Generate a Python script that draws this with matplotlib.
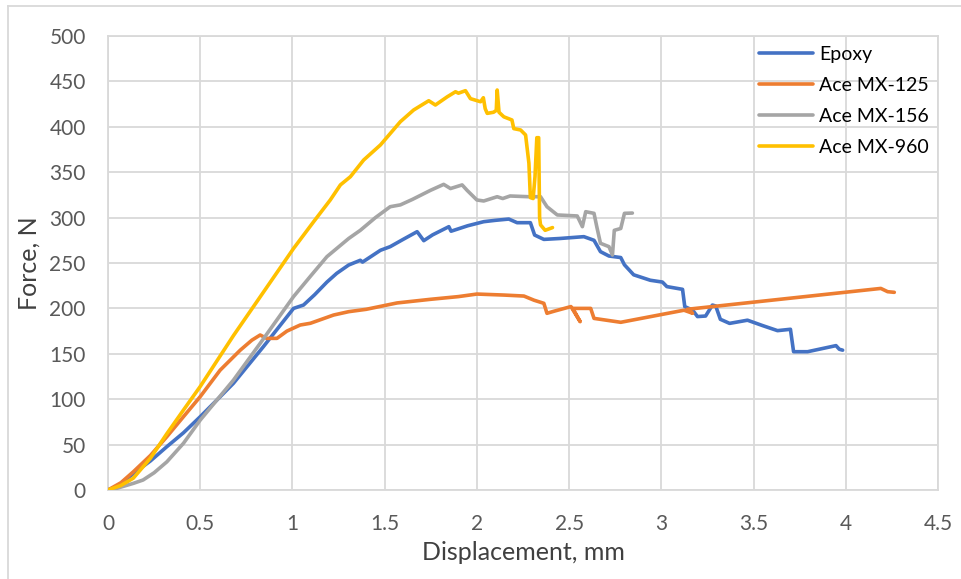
import matplotlib
matplotlib.use("Agg")
import matplotlib.pyplot as plt
from matplotlib.lines import Line2D

plt.rcParams["font.family"] = ["Lato", "DejaVu Sans"]

# 하중-변위 곡선 (Displacement mm, Force N)
epoxy_x = [0, 0.05, 0.137, 0.23, 0.319, 0.409, 0.5, 0.59, 0.68, 0.843, 1.006, 1.06, 1.12,
           1.187, 1.24, 1.305, 1.368, 1.38, 1.477, 1.53, 1.6, 1.676, 1.712, 1.76, 1.848,
           1.86, 1.95, 2.037, 2.1, 2.173, 2.218, 2.29, 2.313, 2.363, 2.45, 2.58, 2.635,
           2.67, 2.716, 2.78, 2.80, 2.85, 2.94, 3.006, 3.03, 3.115, 3.127, 3.17, 3.196,
           3.24, 3.277, 3.295, 3.32, 3.37, 3.467, 3.55, 3.63, 3.70, 3.717, 3.793, 3.947,
           3.965, 3.983]
epoxy_y = [0, 4, 18, 32, 47.7, 63, 80.7, 99, 117.5, 158, 200, 203.7, 215,
           229, 238.6, 247.8, 253, 251, 264, 268, 276, 284.5, 274.6, 281, 290,
           285, 291, 295.5, 297, 298.4, 294.4, 294.4, 280.8, 276, 277, 279, 275,
           262.5, 257.7, 256, 248, 237, 231, 229, 224, 221, 202, 198, 191,
           191.6, 203.7, 202.6, 188, 183.5, 187, 181, 175.5, 177, 152.3, 152.3, 159,
           155, 154]

mx125_x = [0, 0.07, 0.137, 0.23, 0.319, 0.409, 0.5, 0.608, 0.717, 0.78, 0.825, 0.86,
           0.916, 0.97, 1.042, 1.097, 1.223, 1.305, 1.4, 1.567, 1.748, 1.9, 2.0, 2.146,
           2.255, 2.31, 2.363, 2.38, 2.42, 2.51, 2.56, 2.52, 2.617, 2.635, 2.78, 3.123,
           3.17, 3.14, 4.19, 4.227, 4.263]
mx125_y = [0, 8, 20, 38, 58.7, 80.7, 102.8, 132, 154, 165, 170.7, 167,
           167, 175, 181.7, 183.6, 192.7, 196.4, 199, 206, 210, 213, 215.8, 214.7,
           213.6, 209, 205.6, 194.6, 197, 202, 185.4, 200, 200, 189, 184.7, 198,
           194.6, 199, 222, 218.4, 217.7]

mx156_x = [0, 0.05, 0.137, 0.19, 0.25, 0.319, 0.409, 0.5, 0.59, 0.68, 0.825, 1.006,
           1.1, 1.187, 1.305, 1.368, 1.45, 1.53, 1.585, 1.65, 1.748, 1.82, 1.857, 1.92,
           1.947, 2.0, 2.037, 2.11, 2.14, 2.18, 2.28, 2.345, 2.38, 2.436, 2.544, 2.572,
           2.59, 2.635, 2.65, 2.67, 2.716, 2.735, 2.745, 2.78, 2.8, 2.843]
mx156_y = [0, 2, 7.3, 11, 19, 31, 51.4, 77, 99, 121, 161.5, 213,
           236, 257, 277, 286, 300, 312, 314, 320, 330, 336.6, 332, 336,
           330, 319.4, 318.3, 323, 321, 323.8, 323, 323, 312, 302.9, 301.8, 290,
           306.5, 304.7, 290, 271.7, 268, 258.8, 286, 288, 304.7, 305]

mx960_x = [0, 0.07, 0.137, 0.23, 0.319, 0.409, 0.5, 0.68, 0.86, 1.006, 1.115, 1.205,
           1.26, 1.314, 1.386, 1.477, 1.585, 1.657, 1.739, 1.775, 1.839, 1.884, 1.9, 1.938,
           1.965, 2.02, 2.035, 2.045, 2.056, 2.09, 2.105, 2.11, 2.12, 2.146, 2.19, 2.2,
           2.237, 2.264, 2.282, 2.29, 2.305, 2.315, 2.325, 2.335, 2.34, 2.345, 2.37, 2.41]
mx960_y = [0, 5, 13, 35, 62, 88, 114, 170, 223, 266, 295.5, 319.4,
           336, 345, 363.4, 380, 405.6, 418.5, 428.7, 424, 433, 438.6, 437, 439.8,
           431, 427.6, 432, 420, 414.8, 416, 418, 440.5, 416, 411, 407.5, 398,
           396.5, 391, 360, 322, 321, 345, 388, 388, 300, 292, 286, 289]

series = [
    ("Epoxy", epoxy_x, epoxy_y, "#4472C4"),
    ("Ace MX-125", mx125_x, mx125_y, "#ED7D31"),
    ("Ace MX-156", mx156_x, mx156_y, "#A5A5A5"),
    ("Ace MX-960", mx960_x, mx960_y, "#FFC000"),
]

W, H = 961, 579
fig = plt.figure(figsize=(W / 100, H / 100), dpi=100)
ax = fig.add_axes([108 / W, 1 - 490 / H, (938 - 108) / W, (490 - 36) / H])

for name, xs, ys, col in series:
    ax.plot(xs, ys, color=col, lw=2.6, label=name, solid_joinstyle="round",
            solid_capstyle="round", zorder=3)

ax.set_xlim(0, 4.5)
ax.set_ylim(0, 500)
ax.set_xticks([0, 0.5, 1, 1.5, 2, 2.5, 3, 3.5, 4, 4.5])
ax.set_xticklabels(["0", "0.5", "1", "1.5", "2", "2.5", "3", "3.5", "4", "4.5"])
ax.set_yticks(range(0, 501, 50))
ax.grid(True, color="#D9D9D9", lw=1.3, zorder=0)
ax.set_axisbelow(True)
for s in ax.spines.values():
    s.set_color("#D9D9D9")
    s.set_linewidth(1.3)
ax.tick_params(length=0, labelsize=15, labelcolor="#595959")
ax.tick_params(axis="x", pad=17)
ax.tick_params(axis="y", pad=16)

ax.set_xlabel("Displacement, mm", fontsize=18, color="#404040", labelpad=5)
ax.set_ylabel("Force, N", fontsize=18, color="#404040", labelpad=6)

ax.legend(loc="upper left", bbox_to_anchor=(759 / W, 1 - 46 / H),
          bbox_transform=fig.transFigure, frameon=False, fontsize=14,
          handlelength=2.8, handletextpad=0.3, labelspacing=0.72,
          borderpad=0, borderaxespad=0)

# 차트 영역 외곽선 (위/왼쪽)
fig.add_artist(Line2D([8 / W, 1], [1 - 6 / H, 1 - 6 / H], color="#D9D9D9", lw=1.3,
                      transform=fig.transFigure))
fig.add_artist(Line2D([8 / W, 8 / W], [0, 1 - 6 / H], color="#D9D9D9", lw=1.3,
                      transform=fig.transFigure))

fig.savefig("out.png", dpi=100)
